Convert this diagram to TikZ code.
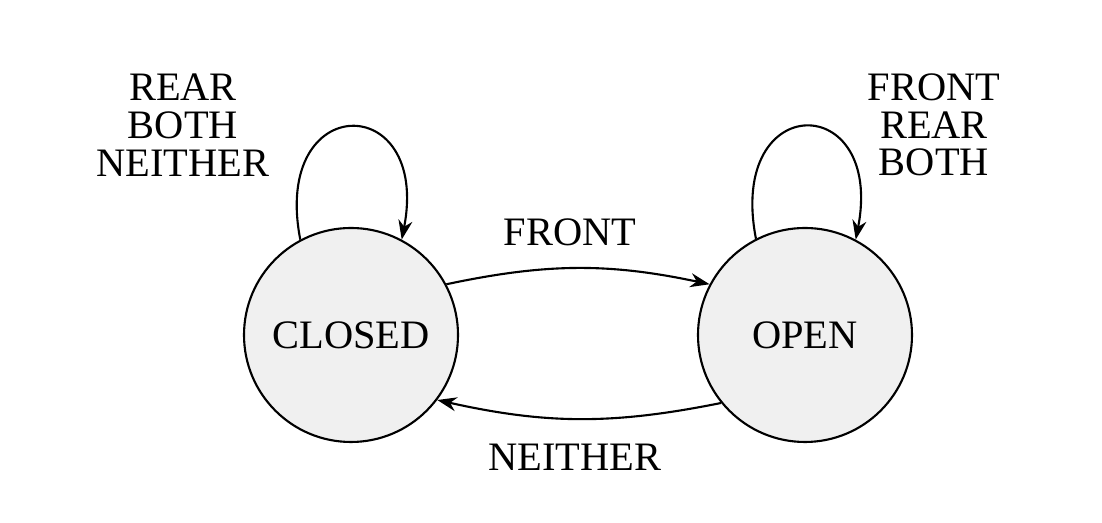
\documentclass[tikz,border=0pt]{standalone}
\usepackage{fontspec}
\setmainfont{Liberation Serif}
\usetikzlibrary{arrows.meta}
\definecolor{statefill}{HTML}{F0F0F0}
\tikzset{
    state/.style={circle,draw,fill=statefill,line width=1.2pt,minimum size=4.28cm,inner sep=0pt},
    trans/.style={line width=1.2pt,-{Stealth[length=11pt,width=8pt]}},
    lbl/.style={align=center,inner sep=0pt}
}
\begin{document}
\begin{tikzpicture}[font=\fontsize{23pt}{21.5pt}\selectfont]
        \useasboundingbox (0,0) rectangle (22.04,10.46);
        \node[state] (closed) at (7.02,3.76) {CLOSED};
        \node[state] (open) at (16.10,3.76) {OPEN};
        %
        \draw[trans] (closed.118) .. controls +(101:3.05) and +(79:3.05) .. (closed.62);
        \draw[trans] (open.117) .. controls +(101:3.05) and +(79:3.05) .. (open.62);
        \node[lbl] (closedloop) at (3.66,7.96) {REAR\\BOTH\\NEITHER};
        \node[lbl] (openloop) at (18.68,7.96) {FRONT\\REAR\\BOTH};
        %
        \draw[trans] (closed.28) to[bend left=12] (open.152);
        \draw[trans] (open.219) to[bend left=12] (closed.323);
        \node[lbl] (front) at (11.4,5.82) {FRONT};
        \node[lbl] (neither) at (11.5,1.32) {NEITHER};
    \end{tikzpicture}
\end{document}
